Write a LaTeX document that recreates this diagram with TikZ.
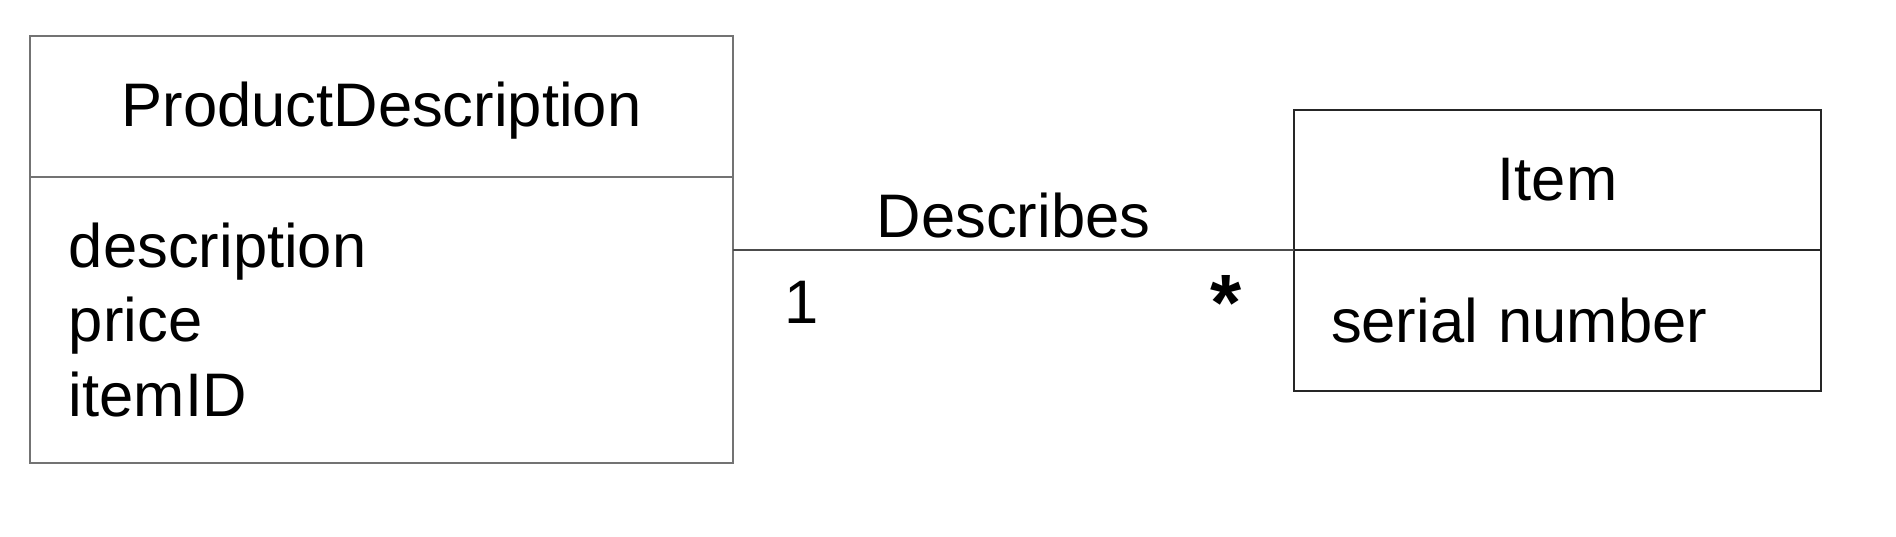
\documentclass[tikz,border=0pt]{standalone}
\usepackage{fontspec}
\setmainfont{Liberation Sans}
\usetikzlibrary{positioning}

\begin{document}
\begin{tikzpicture}[node distance=0cm,every node/.style={font=\fontsize{17.5}{21.2}\selectfont},
	pdbox/.style={draw=black!55,line width=0.8pt,outer sep=0pt,minimum width=7.03cm},
	itembox/.style={draw=black!85,line width=0.6pt,outer sep=0pt,minimum width=5.27cm},
	mult/.style={inner sep=0pt}]

\useasboundingbox (0,0) rectangle (18.96,-5.36);

\node[pdbox,minimum height=1.41cm,text height=13pt,text depth=1.6pt]   (pdhead) at (3.815,-1.065)  {ProductDescription};
	\node[pdbox,minimum height=2.86cm,text width=6.25cm,inner xsep=0.39cm,align=left] (pdattr) [below=of pdhead] {description\\price\\itemID};

	\node[itembox,minimum height=1.40cm] (itemhead) at (15.575,-1.80) {Item};
	\node[itembox,minimum height=1.41cm,text width=4.53cm,inner xsep=0.37cm,align=left] (itemattr) [below=of itemhead] {serial number};

	\coordinate (pdjoin) at (itemhead.south west -| pdattr.east);

	\path[draw=black!70,line width=0.6pt] (pdjoin) edge node[mult,above=0.11cm] {Describes}
					node[mult,pos=0.123,below=0.3cm] {1}
					node[mult,pos=0.878,below=0.24cm,scale=1.3] {\textbf{*}} (itemhead.south west);

\end{tikzpicture}
\end{document}
